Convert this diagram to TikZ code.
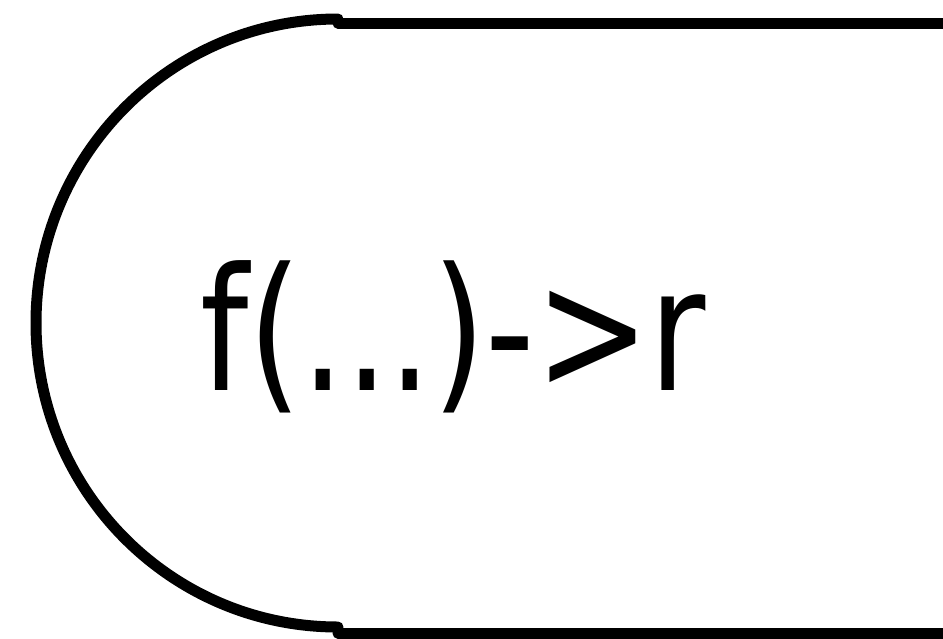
\documentclass[tikz,border=0pt]{standalone}
\usepackage{fontspec}
\newfontfamily\etiquette[FakeStretch=0.89]{DejaVu Sans Condensed}
\begin{document}
\begin{tikzpicture}[x=1pt,y=-1pt]
    % Cadre de la page
    \useasboundingbox (0,0) rectangle (943,638);
    \clip (0,0) rectangle (943,638);

    % Bord arrondi a gauche
    \draw[line width=11pt, line cap=round] (338,19) arc[start angle=270, end angle=90, x radius=302, y radius=304];

    % Bords haut et bas
    \coordinate (haut) at (338,23);
    \coordinate (bas) at (338,633);
    \draw[line width=11pt, line cap=round] (haut) -- ++(640,0);
    \draw[line width=11pt, line cap=round] (bas) -- ++(640,0);

    % Texte
    \node[anchor=base, inner sep=0pt, font=\etiquette\fontsize{171}{200}\selectfont] (fonction) at (453,390) {f(...)->r};
\end{tikzpicture}
\end{document}
